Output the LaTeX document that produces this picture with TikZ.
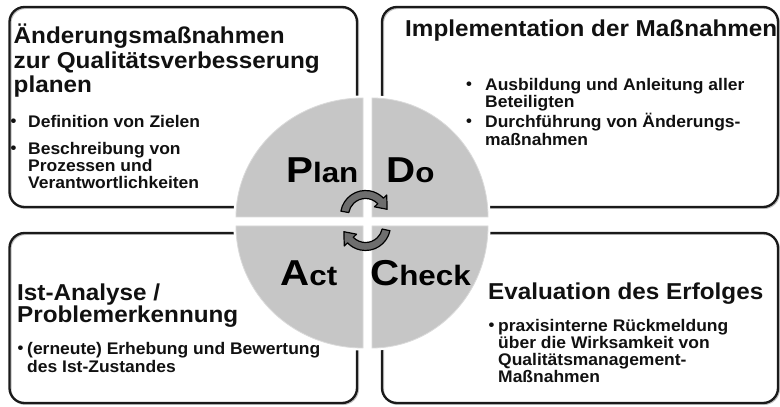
\documentclass[tikz,border=0pt]{standalone}
\usepackage{fontspec}
\setmainfont{Liberation Sans}
\newfontfamily\titlefont{Liberation Sans}[FakeStretch=1.055]
\newfontfamily\bulfont{Liberation Sans}[FakeStretch=1.04]
\newfontfamily\pdcafont{Liberation Sans}[FakeStretch=1.12]
\definecolor{boxline}{HTML}{1A1A1A}
\definecolor{quadfill}{HTML}{C6C6C6}
\definecolor{quadrim}{HTML}{DADADA}
\definecolor{arrfill}{HTML}{6E6E6E}
\definecolor{txt}{HTML}{111111}
\tikzset{
  box/.style={draw=boxline, line width=2.3pt, rounded corners=15pt},
  boxshadow/.style={draw=black!25, line width=2pt, rounded corners=15pt},
  quad/.style={fill=quadfill, draw=quadrim, line width=0.8pt},
  halo/.style={draw=white, line width=5pt},
  ttl/.style={anchor=base west, inner sep=0pt, font=\titlefont\bfseries\fontsize{23}{25}\selectfont, text=txt},
  itm/.style={anchor=base west, inner sep=0pt, font=\bulfont\bfseries\fontsize{16.8}{17}\selectfont, text=txt},
  bulletdot/.style={inner sep=0pt, font=\bulfont\bfseries\fontsize{16}{16}\selectfont, text=txt},
  arr/.style={fill=arrfill, draw=black, line width=1.2pt, line join=round},
  pdca/.style={anchor=base west, inner sep=0pt, text=black, font=\pdcafont\bfseries},
}
\newcommand{\bigL}[1]{{\fontsize{36}{36}\selectfont #1}}
\newcommand{\smallL}[1]{{\fontsize{28}{28}\selectfont #1}}
\begin{document}
\begin{tikzpicture}[x=1pt,y=1pt]
\useasboundingbox (0,0) rectangle (780,407);
\fill[white] (0,0) rectangle (780,407);

% boxes
\draw[boxshadow] (10.5,399) rectangle (358,199);
\draw[boxshadow] (383,399) rectangle (779,199);
\draw[boxshadow] (10.5,173) rectangle (358,3);
\draw[boxshadow] (383,173) rectangle (779,3);
\draw[box] (9.5,400) rectangle (357,200);
\draw[box] (382,400) rectangle (778,200);
\draw[box] (9.5,174) rectangle (357,4);
\draw[box] (382,174) rectangle (778,4);

% quadrants: halo
\path[halo] (363,190) -- (236,190) arc[start angle=180,end angle=90,x radius=127,y radius=119] -- cycle;
\path[halo] (372,190) -- (488,190) arc[start angle=0,end angle=90,x radius=116,y radius=119] -- cycle;
\path[halo] (363,181) -- (236,181) arc[start angle=180,end angle=270,x radius=127,y radius=122] -- cycle;
\path[halo] (372,181) -- (488,181) arc[start angle=0,end angle=-90,x radius=116,y radius=122] -- cycle;
% quadrants
\path[quad] (363,190) -- (236,190) arc[start angle=180,end angle=90,x radius=127,y radius=119] -- cycle;
\path[quad] (372,190) -- (488,190) arc[start angle=0,end angle=90,x radius=116,y radius=119] -- cycle;
\path[quad] (363,181) -- (236,181) arc[start angle=180,end angle=270,x radius=127,y radius=122] -- cycle;
\path[quad] (372,181) -- (488,181) arc[start angle=0,end angle=-90,x radius=116,y radius=122] -- cycle;

% PDCA letters
\node[pdca] (plan) at (286,224.5) {\bigL{P}\smallL{lan}};
\node[pdca] (do) at (386,224.5) {\bigL{D}\smallL{o}};
\node[pdca] (act) at (280,121) {\bigL{A}\smallL{ct}};
\node[pdca] (check) at (370,121) {\bigL{C}\smallL{heck}};

% circular arrows
\coordinate (ct) at (365.5,191.5);
\coordinate (cb) at (365.5,181.5);
\filldraw[arr] ([shift={(170:25)}]ct) arc[start angle=170,end angle=44,radius=25]
  -- ([shift={(44:29.5)}]ct) -- ([shift={(16:22.5)}]ct) -- ([shift={(44:12.5)}]ct)
  -- ([shift={(44:17)}]ct) arc[start angle=44,end angle=170,radius=17] -- cycle;
\filldraw[arr] ([shift={(-12:25)}]cb) arc[start angle=-12,end angle=-136,radius=25]
  -- ([shift={(-136:29.5)}]cb) -- ([shift={(-164:22.5)}]cb) -- ([shift={(-136:12.5)}]cb)
  -- ([shift={(-136:17)}]cb) arc[start angle=-136,end angle=-12,radius=17] -- cycle;

% top-left text
\node[ttl] (tl1) at (13.5,363) {Änderungsmaßnahmen};
\node[ttl] (tl2) at (13.5,338.5) {zur Qualitätsverbesserung};
\node[ttl] (tl3) at (13.5,314) {planen};
\node[bulletdot] (tlb1) at (13.5,284) {•};
\node[itm] (tli1) at (28,279) {Definition von Zielen};
\node[bulletdot] (tlb2) at (13.5,257) {•};
\node[itm] (tli2) at (28,252) {Beschreibung von};
\node[itm] (tli3) at (28,235) {Prozessen und};
\node[itm] (tli4) at (28,218) {Verantwortlichkeiten};

% top-right text
\node[ttl] (tr1) at (405,370) {Implementation der Maßnahmen};
\node[bulletdot] (trb1) at (469,321) {•};
\node[itm] (tri1) at (485,316) {Ausbildung und Anleitung aller};
\node[itm] (tri2) at (485,299.5) {Beteiligten};
\node[bulletdot] (trb2) at (469,284) {•};
\node[itm] (tri3) at (485,279) {Durchführung von Änderungs-};
\node[itm] (tri4) at (485,261) {maßnahmen};

% bottom-left text
\node[ttl] (bl1) at (17,106.5) {Ist-Analyse /};
\node[ttl] (bl2) at (17,84) {Problemerkennung};
\node[bulletdot] (blb1) at (20.5,57) {•};
\node[itm] (bli1) at (27,52) {(erneute) Erhebung und Bewertung};
\node[itm] (bli2) at (27,34.5) {des Ist-Zustandes};

% bottom-right text
\node[ttl] (br1) at (488,107) {Evaluation des Erfolges};
\node[bulletdot] (brb1) at (491.5,80) {•};
\node[itm] (bri1) at (498,75) {praxisinterne Rückmeldung};
\node[itm] (bri2) at (498,58) {über die Wirksamkeit von};
\node[itm] (bri3) at (498,41.5) {Qualitätsmanagement-};
\node[itm] (bri4) at (498,24.5) {Maßnahmen};
\end{tikzpicture}
\end{document}
